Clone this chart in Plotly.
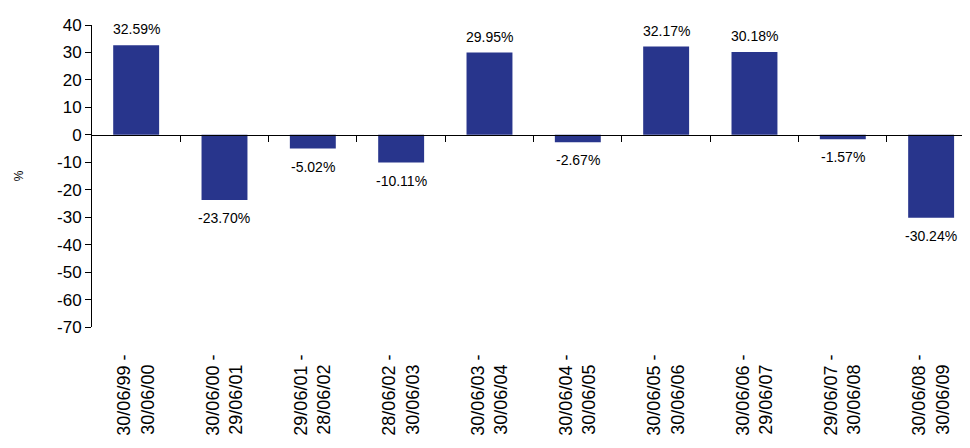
import plotly.graph_objects as go

periods_start = ["30/06/99 -", "30/06/00 -", "29/06/01 -", "28/06/02 -", "30/06/03 -",
                 "30/06/04 -", "30/06/05 -", "30/06/06 -", "29/06/07 -", "30/06/08 -"]
periods_end = ["30/06/00", "29/06/01", "28/06/02", "30/06/03", "30/06/04",
               "30/06/05", "30/06/06", "29/06/07", "30/06/08", "30/06/09"]
returns = [32.59, -23.70, -5.02, -10.11, 29.95, -2.67, 32.17, 30.18, -1.57, -30.24]

y_min, y_max, y_step = -70, 40, 10

categories = [f"{a}<br>{b}\u00a0\u00a0" for a, b in zip(periods_start, periods_end)]
labels = [f"{v:.2f}%" for v in returns]
n = len(categories)
xs = list(range(n))
y_ticks = list(range(y_min, y_max + 1, y_step))

font_family = "Liberation Sans, Arial, sans-serif"

fig = go.Figure()
fig.add_trace(go.Bar(
    x=xs,
    y=returns,
    marker=dict(color="#28358C", line=dict(width=0)),
    width=0.52,
    showlegend=False,
    hoverinfo="x+y",
))
# invisible companion trace so the zero-line axis (x2) is drawn
fig.add_trace(go.Scatter(
    x=xs, y=returns, xaxis="x2", yaxis="y",
    mode="markers", marker=dict(opacity=0, size=1),
    showlegend=False, hoverinfo="skip",
))

for x, v, t in zip(xs, returns, labels):
    fig.add_annotation(
        x=x, y=v, xref="x", yref="y", text=t, showarrow=False,
        yanchor="middle", yshift=16 if v >= 0 else -18,
        font=dict(family=font_family, size=14, color="black"),
    )

x_range = [-0.5, n - 0.56]

# note: page body adds an 8px offset; margins compensate
fig.update_layout(
    width=970, height=448,
    paper_bgcolor="white", plot_bgcolor="white",
    margin=dict(l=84, r=8, t=17, b=129),
    font=dict(family=font_family, color="black"),
    xaxis=dict(
        type="linear",
        range=x_range,
        tickmode="array",
        tickvals=xs,
        ticktext=categories,
        tickangle=-90,
        tickfont=dict(size=18, family=font_family),
        showline=False, showgrid=False, zeroline=False,
        ticks="",
        ticklabelstandoff=23,
        automargin=False,
    ),
    xaxis2=dict(
        overlaying="x",
        anchor="free",
        position=(0 - y_min) / (y_max - y_min),
        range=x_range,
        tickmode="array",
        tickvals=[i + 0.5 for i in range(n - 1)],
        showticklabels=False,
        ticks="outside", ticklen=6, tickcolor="black", tickwidth=1,
        showline=True, linecolor="black", linewidth=1,
        showgrid=False, zeroline=False,
        automargin=False,
    ),
    yaxis=dict(
        range=[y_min, y_max],
        tickmode="array",
        tickvals=y_ticks,
        ticktext=[str(v) for v in y_ticks],
        showline=True, linecolor="black", linewidth=1,
        ticks="outside", ticklen=6, tickcolor="black",
        showgrid=False, zeroline=False,
        tickfont=dict(size=17, family=font_family),
        title=dict(text="%", font=dict(size=12, family=font_family), standoff=30),
        automargin=False,
    ),
)

fig.write_html("out.html")
